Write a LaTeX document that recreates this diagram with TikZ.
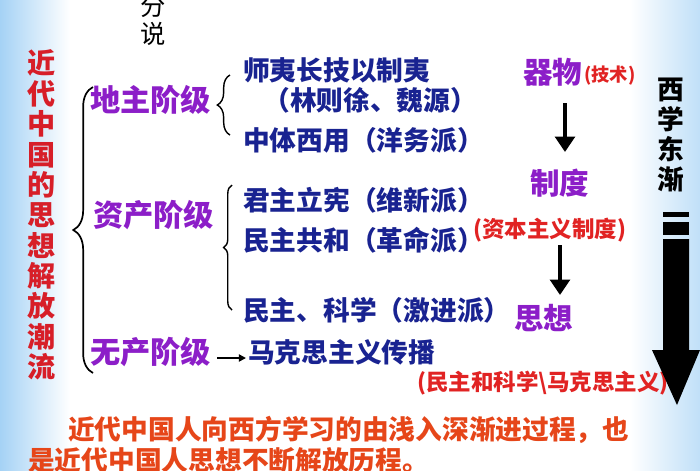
\documentclass[tikz,border=0pt]{standalone}
\usepackage{fontspec}
\setmainfont{Noto Sans CJK SC}
\usetikzlibrary{decorations.pathreplacing,arrows.meta}

\definecolor{classviolet}{RGB}{140,30,200}
\definecolor{ideanavy}{RGB}{25,35,145}
\definecolor{notered}{RGB}{225,35,35}
\definecolor{titlered}{RGB}{215,30,40}
\definecolor{summaryred}{RGB}{230,70,25}
\definecolor{skyblue}{RGB}{165,210,245}

\tikzset{
  classname/.style={text=classviolet, font=\fontsize{21.5}{21.5}\selectfont\bfseries, inner sep=0pt, anchor=west},
  idea/.style={text=ideanavy, font=\fontsize{19}{19}\selectfont\bfseries, inner sep=0pt, anchor=west},
  stagename/.style={text=classviolet, font=\fontsize{21}{21}\selectfont\bfseries, inner sep=0pt, anchor=west},
  note/.style={text=notered, font=\fontsize{16}{16}\selectfont\bfseries, inner sep=0pt, anchor=west},
  summary/.style={text=summaryred, font=\fontsize{19}{19}\selectfont\bfseries, inner sep=0pt, anchor=west},
  vtext/.style={align=center, inner sep=0pt},
  bigbrace/.style={decorate, decoration={brace, amplitude=14pt}, line width=1.2pt},
  smallbrace/.style={decorate, decoration={brace, amplitude=#1}, line width=1pt},
  downarrow/.style={line width=3pt, -{Triangle[width=14pt,length=11pt]}}
}

\begin{document}
\begin{tikzpicture}[x=0.025cm, y=-0.025cm]

\useasboundingbox (0,0) rectangle (700,470);
\clip (0,0) rectangle (700,470);
\fill[white] (0,0) rectangle (700,470);
\shade[left color=skyblue, right color=white] (0,0) rectangle (70,470);
\shade[left color=white, right color=skyblue!70] (630,0) rectangle (700,470);

\node[vtext, font=\fontsize{18}{20}\selectfont] (fenshuo) at (153,20) {分\\说};
\node[vtext, text=titlered, font=\fontsize{20}{21.6}\selectfont\bfseries] (title) at (42,215) {近\\代\\中\\国\\的\\思\\想\\解\\放\\潮\\流};
\node[vtext, font=\fontsize{19}{21.3}\selectfont\bfseries] (xixue) at (671,135) {西\\学\\东\\渐};

\node[classname] (dizhu) at (90,100) {地主阶级};
\node[classname] (zichan) at (93,215) {资产阶级};
\node[classname] (wuchan) at (90,352) {无产阶级};

\node[idea] (shiyi) at (243,70) {师夷长技以制夷};
\node[idea] (linze) at (263,100) {（林则徐、魏源）};
\node[idea] (zhongti) at (243,140) {中体西用（洋务派）};
\node[idea] (junzhu) at (243,200) {君主立宪（维新派）};
\node[idea] (gonghe) at (243,240) {民主共和（革命派）};
\node[idea] (kexue) at (243,310) {民主、科学（激进派）};
\node[idea] (makesi) at (248,352) {马克思主义传播};

\node[stagename] (qiwu) at (523,72) {器物};
\node[note, font=\fontsize{13}{13}\selectfont\bfseries] (jishu) at (584,76) {(技术)};
\node[stagename] (zhidu) at (530,183) {制度};
\node[note] (zibenzhuyi) at (473,230) {(资本主义制度)};
\node[stagename] (sixiang) at (514,318) {思想};
\node[note] (minzhu) at (417,383) {(民主和科学\textbackslash 马克思主义)};

\coordinate (big-top) at (93,87);
\coordinate (big-bottom) at (93,373);
\coordinate (dz-top) at (230,75);
\coordinate (dz-bottom) at (230,135);
\coordinate (zc-top) at (232,185);
\coordinate (zc-bottom) at (232,310);
\coordinate (wc-start) at (217,358);
\coordinate (wc-end) at (246,358);
\coordinate (qiwu-end) at (565,103);
\coordinate (zhidu-top) at (565,152);
\coordinate (zhidu-end) at (560,245);
\coordinate (sixiang-top) at (560,295);

\draw[bigbrace] (big-bottom) -- (big-top);
\draw[smallbrace=9pt] (dz-bottom) -- (dz-top);
\draw[smallbrace=6pt] (zc-bottom) -- (zc-top);
\draw[line width=1.2pt, -{Triangle[width=5pt,length=5pt]}] (wc-start) -- (wc-end);
\draw[downarrow] (qiwu-end) -- (zhidu-top);
\draw[downarrow] (zhidu-end) -- (sixiang-top);

\fill (663,212) rectangle (689,217);
\fill (663,222) rectangle (689,235);
\fill (663,239) -- (689,239) -- (689,350) -- (700,350) -- (677,405) -- (652,350) -- (663,350) -- cycle;

\node[summary] (line1) at (68,430) {近代中国人向西方学习的由浅入深渐进过程，也};
\node[summary] (line2) at (28,460) {是近代中国人思想不断解放历程。};

\end{tikzpicture}
\end{document}
